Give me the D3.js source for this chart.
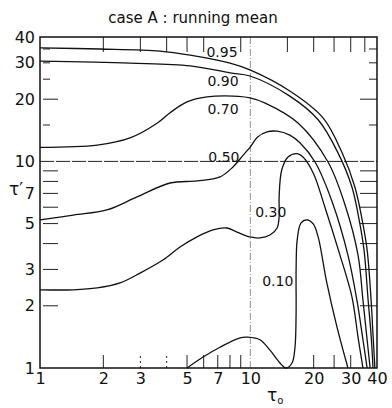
<!DOCTYPE html>
<html>
<head>
<meta charset="utf-8">
<script src="https://cdn.jsdelivr.net/npm/d3@7"></script>
<style>
   body { margin: 0; background: #fff; }
   text { font-family: "DejaVu Sans", sans-serif; fill: #111; }
</style>
</head>
<body>
<script>
// contour levels and their traces (tau0, tau')
const levels = ['0.95', '0.90', '0.70', '0.50', '0.30', '0.10'];

const t0_95 = [1, 1.93, 3.72, 5.17, 8.01, 9.96, 15.4, 22.2, 27.3, 31.4, 34.0, 35.9, 37.5, 38.3, 39.1];
const tp_95 = [35.4, 35.0, 34.2, 32.7, 29.9, 27.7, 21.9, 16.2, 11.0, 7.52, 5.21, 3.73, 2.13, 1.44, 1.0];

const t0_90 = [1, 2.68, 5.17, 8.01, 9.96, 15.4, 21.0, 26.1, 30.4, 32.9, 34.7, 36.3, 37.5, 38.3];
const tp_90 = [30.6, 29.9, 29.0, 26.8, 25.9, 20.7, 15.9, 11.0, 7.52, 5.21, 3.73, 2.13, 1.44, 1.0];

const t0_70 = [1, 1.87, 2.68, 3.60, 4.15, 5.00, 6.22, 8.27, 9.96, 11.7, 16.9, 23.4, 28.2, 32.5, 34.3, 35.9, 37.1];
const tp_70 = [11.7, 12.0, 13.0, 15.3, 17.2, 19.4, 20.5, 20.7, 20.3, 19.2, 15.3, 9.93, 6.15, 3.52, 2.13, 1.37, 1.0];

const t0_50 = [1, 1.44, 2.08, 2.89, 4.15, 5.58, 7.17, 8.27, 9.23, 9.96, 10.8, 12.0, 13.4, 15.4, 17.2, 20.3, 24.5, 29.1, 32.1, 34.3, 35.9];
const tp_50 = [5.21, 5.50, 5.82, 6.73, 7.86, 8.04, 8.41, 9.40, 10.7, 11.7, 13.1, 13.9, 14.0, 13.4, 12.3, 9.93, 6.36, 3.52, 2.13, 1.37, 1.0];

const t0_30 = [1, 1.44, 1.87, 2.40, 2.99, 3.84, 4.63, 5.58, 6.64, 7.74, 8.64, 9.96, 11.1, 12.4, 13.4, 13.7, 13.7, 14.1, 15.1, 16.7, 17.8, 19.9, 22.6, 26.4, 30.4, 32.5, 34.3];
const tp_30 = [2.39, 2.39, 2.44, 2.58, 2.88, 3.33, 3.85, 4.31, 4.66, 4.76, 4.55, 4.31, 4.26, 4.40, 4.76, 5.38, 6.73, 9.09, 10.5, 10.9, 10.5, 8.79, 6.02, 3.64, 2.21, 1.41, 1.0];

const t0_10 = [5.00, 5.96, 7.17, 8.93, 9.74, 11.1, 12.4, 13.8, 14.8, 15.8, 16.3, 16.5, 16.5, 16.7, 17.4, 18.6, 19.9, 21.0, 23.1, 25.8, 29.1];
const tp_10 = [1.0, 1.13, 1.26, 1.40, 1.41, 1.37, 1.22, 1.06, 1.0, 1.06, 1.26, 1.85, 2.98, 4.17, 5.03, 5.21, 4.98, 4.31, 2.58, 1.58, 1.0];

// where each level's number is written (tau0, tau')
const labelT0 = [7.33, 7.41, 7.41, 7.49, 12.5, 13.5];
const labelTp = [33.8, 24.5, 17.9, 10.5, 5.69, 2.64];

// axis labels and minor ticks
const xTickLabels = [1, 2, 3, 5, 7, 10, 20, 30, 40];
const yTickLabels = [1, 2, 3, 5, 7, 10, 20, 30, 40];
const topTicks = [2, 3, 4, 5, 6, 9, 15, 20, 25, 30, 35];
const bottomTicks = [2, 3, 4, 5, 6, 7, 8, 9, 20, 25, 30];
const leftLong = [2, 3, 4, 5, 6, 7, 8, 9, 20];
const leftShort = [15, 25, 30, 35];
const rightLong = [2, 3, 4, 5, 6, 7, 8, 9, 20];
const rightShort = [15, 25, 30, 35];

const w = 392;
const h = 408;

const svg = d3.select('body')
              .append('svg')
              .attr('width', w)
              .attr('height', h);

const xScale = d3.scaleLog().domain([1, 40]).range([40, 377]);
const yScale = d3.scaleLog().domain([1, 40]).range([368, 37]);

// title
svg.append('text')
   .attr('x', 193)
   .attr('y', 23)
   .attr('text-anchor', 'middle')
   .style('font-size', '15px')
   .text('case A : running mean');

// reference lines at 10
svg.append('line')
   .attr('x1', xScale(10)).attr('x2', xScale(10))
   .attr('y1', yScale(40)).attr('y2', yScale(1))
   .attr('stroke', '#777')
   .attr('stroke-width', 0.8)
   .attr('stroke-dasharray', '7,2,1,2');
svg.append('line')
   .attr('x1', xScale(1)).attr('x2', xScale(40))
   .attr('y1', yScale(10)).attr('y2', yScale(10))
   .attr('stroke', '#222')
   .attr('stroke-width', 1)
   .attr('stroke-dasharray', '14,2');

// inner ticks
const tickG = svg.append('g').attr('stroke', '#222').attr('stroke-width', 1);
tickG.selectAll('.tt').data(topTicks).enter().append('line')
     .attr('x1', d => xScale(d)).attr('x2', d => xScale(d))
     .attr('y1', yScale(40)).attr('y2', yScale(40) + 15);
tickG.selectAll('.bt').data(bottomTicks).enter().append('line')
     .attr('x1', d => xScale(d)).attr('x2', d => xScale(d))
     .attr('y1', yScale(1)).attr('y2', yScale(1) - 13)
     .attr('stroke-dasharray', d => (d === 3 || d === 4) ? '2,3' : null);
tickG.selectAll('.ll').data(leftLong).enter().append('line')
     .attr('x1', xScale(1) + 3).attr('x2', xScale(1) + 18)
     .attr('y1', d => yScale(d)).attr('y2', d => yScale(d));
tickG.selectAll('.ls').data(leftShort).enter().append('line')
     .attr('x1', xScale(1) + 3).attr('x2', xScale(1) + 10)
     .attr('y1', d => yScale(d)).attr('y2', d => yScale(d));
tickG.selectAll('.rl').data(rightLong).enter().append('line')
     .attr('x1', xScale(40)).attr('x2', xScale(40) - 17)
     .attr('y1', d => yScale(d)).attr('y2', d => yScale(d));
tickG.selectAll('.rs').data(rightShort).enter().append('line')
     .attr('x1', xScale(40)).attr('x2', xScale(40) - 8)
     .attr('y1', d => yScale(d)).attr('y2', d => yScale(d));

// frame
svg.append('rect')
   .attr('x', xScale(1))
   .attr('y', yScale(40))
   .attr('width', xScale(40) - xScale(1))
   .attr('height', yScale(1) - yScale(40))
   .attr('fill', 'none')
   .attr('stroke', '#111')
   .attr('stroke-width', 1.5);

// axes (labels only)
const xAxis = d3.axisBottom(xScale).tickValues(xTickLabels).tickSize(0).tickPadding(5).tickFormat(d3.format('d'));
const gx = svg.append('g')
   .attr('transform', 'translate(0,' + yScale(1) + ')')
   .call(xAxis);
const yAxis = d3.axisLeft(yScale).tickValues(yTickLabels).tickSize(0).tickPadding(5).tickFormat(d3.format('d'));
const gy = svg.append('g')
   .attr('transform', 'translate(' + xScale(1) + ',0)')
   .call(yAxis);
[gx, gy].forEach(g => {
   g.select('.domain').remove();
   g.selectAll('text').style('font-size', '16px').style('font-family', '"DejaVu Sans", sans-serif').attr('fill', '#111');
});

// axis titles
svg.append('text')
   .attr('x', 9)
   .attr('y', 195)
   .style('font-size', '17px')
   .text('τ′');
const xt = svg.append('text')
   .attr('x', 267)
   .attr('y', 401)
   .style('font-size', '17px')
   .text('τ');
xt.append('tspan').attr('dy', 3).style('font-size', '10px').text('o');

// contour curves
const curves = [
   [t0_95, tp_95], [t0_90, tp_90], [t0_70, tp_70],
   [t0_50, tp_50], [t0_30, tp_30], [t0_10, tp_10]
];
const line = d3.line()
   .x(d => xScale(d[0]))
   .y(d => yScale(d[1]))
   .curve(d3.curveCatmullRom.alpha(0.5));

svg.selectAll('.contour')
   .data(curves)
   .enter()
   .append('path')
   .attr('class', 'contour')
   .attr('d', c => line(d3.zip(c[0], c[1])))
   .attr('fill', 'none')
   .attr('stroke', '#111')
   .attr('stroke-width', 1.3);

// level labels
svg.selectAll('.lvl')
   .data(levels)
   .enter()
   .append('text')
   .attr('class', 'lvl')
   .attr('x', (d, i) => xScale(labelT0[i]))
   .attr('y', (d, i) => yScale(labelTp[i]))
   .attr('dy', '0.36em')
   .attr('text-anchor', 'middle')
   .style('font-size', '14px')
   .text(d => d);
</script>
</body>
</html>
